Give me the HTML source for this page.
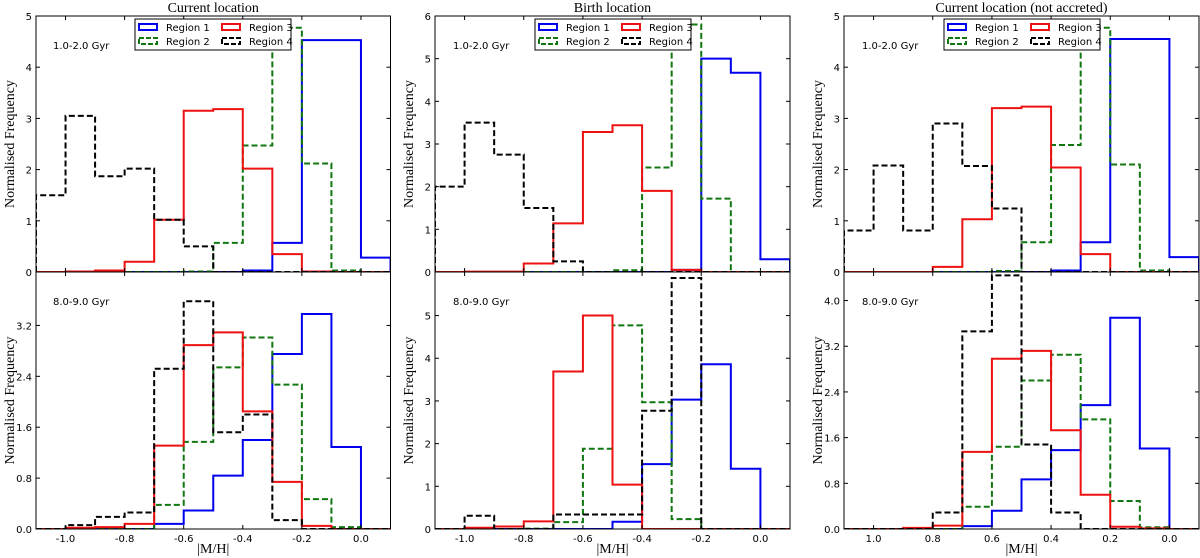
<!DOCTYPE html>
<html><head><meta charset="utf-8"><style>
html,body{margin:0;padding:0;background:#fff;}
svg{display:block;}
.tk{font-family:"DejaVu Sans","Liberation Sans",sans-serif;font-size:10px;fill:#000;}
.sf{font-family:"Liberation Serif","DejaVu Serif",serif;fill:#000;}
</style></head><body>
<svg id="fig" width="1200" height="558" viewBox="0 0 1200 558" xmlns="http://www.w3.org/2000/svg"></svg>
<script>
// bin edges (12 bins, shared by all panels)
const binEdgesLeft = [-1.1,-1.0,-0.9,-0.8,-0.7,-0.6,-0.5,-0.4,-0.3,-0.2,-0.1,0.0,0.1];
const binEdgesRight = [1.1,1.0,0.9,0.8,0.7,0.6,0.5,0.4,0.3,0.2,0.1,0.0,-0.1];
const xTickLabelsLeft = ["-1.0","-0.8","-0.6","-0.4","-0.2","0.0"];
const xTickValsLeft = [-1.0,-0.8,-0.6,-0.4,-0.2,0.0];
const xTickLabelsRight = ["1.0","0.8","0.6","0.4","0.2","0.0"];
const xTickValsRight = [1.0,0.8,0.6,0.4,0.2,0.0];
const seriesNames = ["Region 1","Region 2","Region 3","Region 4"];

// Panel 1 top (Current location, 1.0-2.0 Gyr)
const p1TopR1 = [0,0,0,0,0,0,0,0.03,0.57,4.53,4.53,0.28];
const p1TopR2 = [0,0,0,0,0,0.01,0.57,2.47,4.77,2.12,0.03,0];
const p1TopR3 = [0,0.01,0.03,0.2,1.02,3.15,3.18,2.02,0.35,0.01,0,0];
const p1TopR4 = [1.5,3.05,1.87,2.02,1.02,0.5,0,0,0,0,0,0];
// Panel 1 bottom (8.0-9.0 Gyr)
const p1BotR1 = [0,0,0,0,0.08,0.29,0.84,1.40,2.75,3.38,1.29,0];
const p1BotR2 = [0,0,0,0,0.38,1.37,2.54,3.01,2.27,0.47,0.03,0];
const p1BotR3 = [0,0.02,0.03,0.08,1.31,2.89,3.09,1.85,0.74,0.05,0,0];
const p1BotR4 = [0,0.06,0.19,0.26,2.52,3.58,1.52,1.80,0.14,0,0,0];
// Panel 2 top (Birth location)
const p2TopR1 = [0,0,0,0,0,0,0,0,0.05,5.0,4.67,0.3];
const p2TopR2 = [0,0,0,0,0,0,0.04,2.45,5.8,1.72,0,0];
const p2TopR3 = [0,0.01,0.01,0.2,1.14,3.28,3.44,1.9,0.05,0,0,0];
const p2TopR4 = [2.0,3.5,2.75,1.5,0.25,0,0,0,0,0,0,0];
// Panel 2 bottom
const p2BotR1 = [0,0,0,0,0,0,0.17,1.52,3.03,3.86,1.41,0];
const p2BotR2 = [0,0,0,0.01,0.16,1.88,4.77,2.97,0.23,0,0,0];
const p2BotR3 = [0,0.03,0.06,0.18,3.69,5.0,1.04,0,0,0,0,0];
const p2BotR4 = [0,0.31,0,0,0.34,0.34,0.34,2.77,5.88,0,0,0];
// Panel 3 top (Current location, not accreted)
const p3TopR1 = [0,0,0,0,0,0,0,0.03,0.58,4.55,4.55,0.29];
const p3TopR2 = [0,0,0,0,0,0.02,0.58,2.48,4.77,2.1,0.03,0];
const p3TopR3 = [0,0,0,0.1,1.03,3.2,3.23,2.04,0.35,0,0,0];
const p3TopR4 = [0.81,2.08,0.81,2.9,2.07,1.24,0,0,0,0,0,0];
// Panel 3 bottom
const p3BotR1 = [0,0,0,0,0.05,0.32,0.87,1.38,2.17,3.7,1.41,0];
const p3BotR2 = [0,0,0,0,0.39,1.44,2.6,3.05,1.92,0.49,0.03,0];
const p3BotR3 = [0,0,0.02,0.06,1.35,2.98,3.12,1.73,0.6,0.04,0.01,0];
const p3BotR4 = [0,0,0,0.29,3.46,4.44,1.48,0.29,0,0,0,0];

const colors = ["#0000ee","#117711","#ee1111","#000000"];
const dashes = [null,"6,3",null,"6,3"];
const NS = "http://www.w3.org/2000/svg";
const svg = document.getElementById("fig");
function mk(tag, attrs, parent){ const e=document.createElementNS(NS,tag); for(const k in attrs) e.setAttribute(k,attrs[k]); (parent||svg).appendChild(e); return e; }

const panels = [
 {x0:36,x1:390.5,edges:binEdgesLeft,tv:xTickValsLeft,tl:xTickLabelsLeft,title:"Current location",ax:53,
  top:{ymax:5,ticks:[0,1,2,3,4,5],lab:["0","1","2","3","4","5"],s:[p1TopR1,p1TopR2,p1TopR3,p1TopR4]},
  bot:{ymax:4.04,ticks:[0,0.8,1.6,2.4,3.2],lab:["0.0","0.8","1.6","2.4","3.2"],s:[p1BotR1,p1BotR2,p1BotR3,p1BotR4]},legX:135},
 {x0:435,x1:790,edges:binEdgesLeft,tv:xTickValsLeft,tl:xTickLabelsLeft,title:"Birth location",ax:453,
  top:{ymax:6,ticks:[0,1,2,3,4,5,6],lab:["0","1","2","3","4","5","6"],s:[p2TopR1,p2TopR2,p2TopR3,p2TopR4]},
  bot:{ymax:6.02,ticks:[0,1,2,3,4,5],lab:["0","1","2","3","4","5"],s:[p2BotR1,p2BotR2,p2BotR3,p2BotR4]},legX:535},
 {x0:844,x1:1199,edges:binEdgesRight,tv:xTickValsRight,tl:xTickLabelsRight,title:"Current location (not accreted)",ax:862,
  top:{ymax:5,ticks:[0,1,2,3,4,5],lab:["0","1","2","3","4","5"],s:[p3TopR1,p3TopR2,p3TopR3,p3TopR4]},
  bot:{ymax:4.5,ticks:[0,0.8,1.6,2.4,3.2,4.0],lab:["0.0","0.8","1.6","2.4","3.2","4.0"],s:[p3BotR1,p3BotR2,p3BotR3,p3BotR4]},legX:944}
];
const rows = [{key:"top",y0:16,y1:272,ann:"1.0-2.0 Gyr"},{key:"bot",y0:272,y1:529,ann:"8.0-9.0 Gyr"}];

panels.forEach((p,pi)=>{
  const e0=p.edges[0], e1=p.edges[p.edges.length-1];
  const xs = v => p.x0 + (v-e0)/(e1-e0)*(p.x1-p.x0);
  const t = mk("text",{x:(p.x0+p.x1)/2,y:12,"text-anchor":"middle","font-size":"14",class:"sf"});
  
  
  t.textContent=p.title;
  rows.forEach((r,ri)=>{
    const d=p[r.key];
    const ys = v => r.y1 - v/d.ymax*(r.y1-r.y0);
    const g = mk("g",{});
    
    
    const cid="c"+pi+ri;
    const cp=mk("clipPath",{id:cid},g); mk("rect",{x:p.x0,y:r.y0,width:p.x1-p.x0,height:r.y1-r.y0},cp);
    d.s.forEach((vals,si)=>{
      let dstr="M"+xs(p.edges[0])+","+ys(0);
      vals.forEach((v,i)=>{ dstr+=" L"+xs(p.edges[i])+","+ys(v)+" L"+xs(p.edges[i+1])+","+ys(v); });
      dstr+=" L"+xs(p.edges[vals.length])+","+ys(0);
      const path=mk("path",{d:dstr,fill:"none",stroke:colors[si],"stroke-width":"2","clip-path":"url(#"+cid+")"},g);
      if(dashes[si]) path.setAttribute("stroke-dasharray",dashes[si]);
      
      
    });
    mk("rect",{x:p.x0,y:r.y0,width:p.x1-p.x0,height:r.y1-r.y0,fill:"none",stroke:"#000","stroke-width":"1"},g);
    d.ticks.forEach((tv,ti)=>{
      const y=ys(tv);
      mk("line",{x1:p.x0,x2:p.x0+4,y1:y,y2:y,stroke:"#000"},g);
      mk("line",{x1:p.x1-4,x2:p.x1,y1:y,y2:y,stroke:"#000"},g);
      const lt=mk("text",{x:p.x0-4,y:y+4,"text-anchor":"end",class:"tk"},g);
      
      
      lt.textContent=d.lab[ti];
    });
    p.tv.forEach((tv,ti)=>{
      const x=xs(tv);
      mk("line",{x1:x,x2:x,y1:r.y1,y2:r.y1-4,stroke:"#000"},g);
      mk("line",{x1:x,x2:x,y1:r.y0,y2:r.y0+4,stroke:"#000"},g);
      if(r.key==="bot"){
        const xt=mk("text",{x:x,y:r.y1+13,"text-anchor":"middle",class:"tk"},g);
        
        
        xt.textContent=p.tl[ti];
      }
    });
    const an=mk("text",{x:p.ax,y:r.y0+33,class:"tk"},g);
    
    
    an.textContent=r.ann;
    const yl=mk("text",{x:0,y:0,"text-anchor":"middle","font-size":"14",class:"sf",transform:"translate("+(p.x0-22)+","+((r.y0+r.y1)/2)+") rotate(-90)"},g);
    
    
    yl.textContent="Normalised Frequency";
  });
  const xl=mk("text",{x:(p.x0+p.x1)/2,y:553,"text-anchor":"middle","font-size":"14",class:"sf"});
  
  
  xl.textContent="|M/H|";
  // legend
  const lg=mk("g",{});
  
  
  mk("rect",{x:p.legX,y:19,width:156,height:31,fill:"#fff",stroke:"#000","stroke-width":"1"},lg);
  seriesNames.forEach((n,si)=>{
    const col=si<2?0:1, row=si%2;
    const lx=p.legX+4+col*83, ly=24+row*14;
    const sw=mk("rect",{x:lx,y:ly,width:18,height:6,fill:"none",stroke:colors[si],"stroke-width":"2"},lg);
    if(dashes[si]) sw.setAttribute("stroke-dasharray","5,2");
    const lt=mk("text",{x:lx+27,y:ly+7,class:"tk","font-size":"9"},lg);
    
    
    lt.textContent=n;
  });
});
</script>
</body></html>
